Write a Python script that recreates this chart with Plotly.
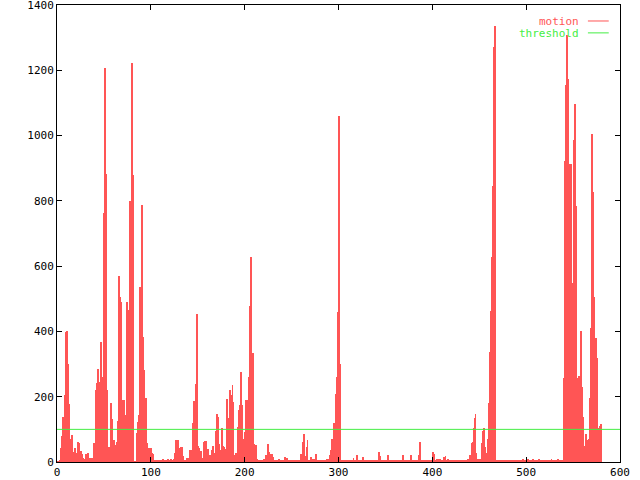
import plotly.graph_objects as go

# motion values, one per frame (x = 0, 1, 2, ...)
motion_000 = [2,3,3,5,42,80,139,103,195,205, 399,400,300,178,25,72,83,32,32,42,
              28,8,62,57,26,8,34,26,13,8, 3,26,10,28,10,13,13,13,13,57,
              42,40,220,241,284,245,220,369,241,261, 762,1206,882,220,47,47,47,108,180,131,
              52,67,51,34,62,127,570,506,491,190, 190,190,57,121,144,491,466,402,801,690,
              1223,879,2,2,2,88,123,144,537,535, 517,787,384,282,195,195,57,42,42,28]
motion_100 = [42,28,26,4,4,3,4,3,4,3, 4,3,4,8,4,3,4,5,8,4,
              3,10,4,4,5,8,27,67,67,67, 43,6,47,47,18,6,6,6,6,13,
              13,13,37,35,38,118,188,159,239,453, 49,43,13,35,13,13,13,62,65,65,
              10,40,21,18,20,37,49,27,27,94, 88,147,137,56,38,16,104,49,45,28,
              39,193,134,134,221,138,205,236,185,21, 16,27,24,108,159,175,276,174,49,70]
motion_200 = [93,190,190,190,169,261,478,627,331,335, 55,52,52,10,4,5,4,6,4,5,
              4,8,4,22,4,55,32,8,24,24, 16,5,5,4,5,4,5,8,4,5,
              4,5,4,16,4,13,5,4,5,4, 6,4,5,6,4,5,4,6,4,5,
              25,24,62,86,18,6,47,67,6,6, 6,14,8,8,8,6,25,5,4,5,
              4,6,4,5,4,5,6,4,8,8, 8,21,37,72,55,118,120,208,260,460]
motion_300 = [710,1060,300,4,5,4,4,5,4,4, 5,4,4,5,4,6,11,4,4,5,
              21,4,4,5,4,6,14,4,4,5, 4,4,6,6,4,5,4,4,5,4,
              4,5,4,30,18,4,5,4,6,4, 5,4,4,21,4,5,6,4,6,4,
              6,4,6,4,5,4,6,4,5,21, 4,5,6,4,6,4,5,21,4,6,
              4,5,6,4,5,4,21,62,6,6, 6,6,6,4,6,6,5,6,4,6]
motion_400 = [6,30,24,6,4,10,10,8,10,4, 4,5,14,14,18,5,4,8,4,6,
              4,5,4,4,5,4,4,6,6,6, 6,6,4,6,6,5,6,6,8,6,
              21,11,57,60,103,134,147,28,8,8, 8,8,8,57,95,103,47,28,24,72,
              180,338,433,464,627,846,1272,1336,4,6, 6,4,6,5,4,6,4,6,5,4,
              6,4,5,6,4,6,4,5,6,4, 6,6,4,6,5,4,6,8,6,4]
motion_500 = [6,4,8,5,6,4,6,8,4,6, 4,6,5,4,8,4,6,5,4,6,
              4,6,4,5,4,6,4,8,4,6, 5,4,6,4,8,6,4,6,5,4,
              256,922,1155,1278,1308,1173,912,912,912,389, 547,987,1097,784,256,226,263,229,401,185,
              230,139,49,49,86,67,67,69,195,410, 1005,828,506,353,379,318,318,93,103,110,
              115]

threshold_value = 100
threshold_x = [0, 600]

x_ticks = [0, 100, 200, 300, 400, 500, 600]
y_ticks = [0, 200, 400, 600, 800, 1000, 1200, 1400]

motion = motion_000 + motion_100 + motion_200 + motion_300 + motion_400 + motion_500
frames = list(range(len(motion)))

RED = "#ff5555"
GREEN = "#44ee44"
FONT = "DejaVu Sans Mono"

fig = go.Figure()
fig.add_trace(go.Bar(x=frames, y=motion, width=1, marker=dict(color=RED, line=dict(width=0)),
                     name="motion", showlegend=False))
fig.add_trace(go.Scatter(x=threshold_x, y=[threshold_value] * len(threshold_x), mode="lines",
                         line=dict(color=GREEN, width=1), name="threshold", showlegend=False))

axis_common = dict(showline=True, linecolor="black", linewidth=1, mirror="ticks",
                   ticks="inside", ticklen=5, tickcolor="black", showgrid=False, zeroline=False,
                   automargin=False, ticklabeloverflow="allow",
                   tickfont=dict(family=FONT, size=11, color="black"))
fig.update_xaxes(range=[0, 600], tickvals=x_ticks, ticktext=[str(v) for v in x_ticks], **axis_common)
fig.update_yaxes(range=[0, 1400], tickvals=y_ticks, ticktext=[str(v) for v in y_ticks], **axis_common)

# gnuplot-style key: text then line sample
for label, color, yp in [("motion", RED, 0.965), ("threshold", GREEN, 0.939)]:
    fig.add_annotation(x=0.929, y=yp, xref="paper", yref="paper", text=label, showarrow=False,
                       xanchor="right", yanchor="middle", height=10, borderpad=0,
                       font=dict(family=FONT, size=11, color=color))
    fig.add_shape(type="line", xref="paper", yref="paper", x0=0.943, x1=0.980, y0=yp, y1=yp,
                  line=dict(color=color, width=1))

fig.update_layout(width=640, height=480, margin=dict(l=57, r=20, t=5, b=18, autoexpand=False),
                  paper_bgcolor="white", plot_bgcolor="white", bargap=0, showlegend=False)

fig.write_html("out.html", config={"displayModeBar": False},
               post_script="document.body.style.margin='0px';")
